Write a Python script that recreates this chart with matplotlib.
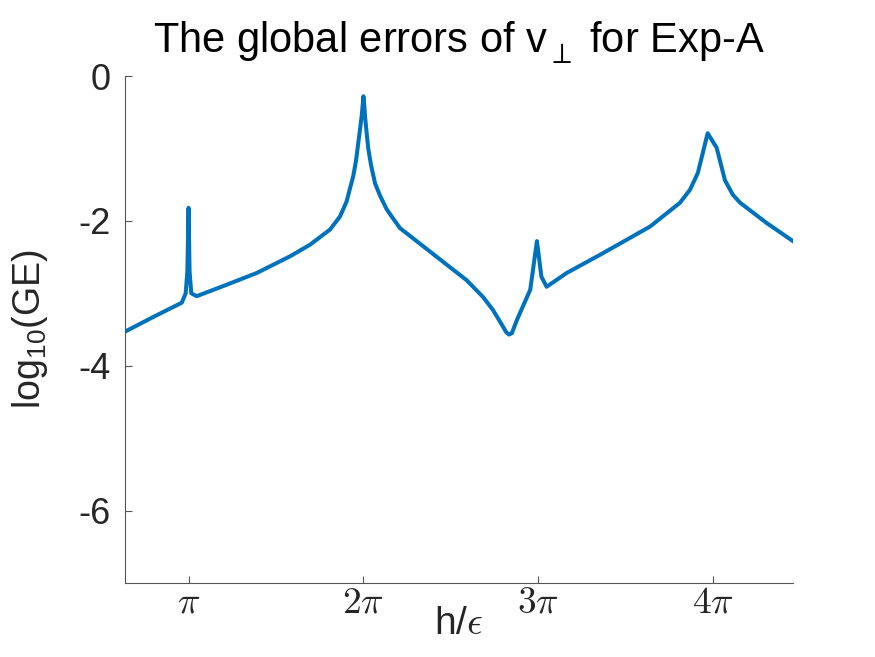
import numpy as np
import matplotlib
matplotlib.use("Agg")
import matplotlib.pyplot as plt

plt.rcParams['font.family'] = ['Liberation Sans', 'DejaVu Sans']
plt.rcParams['mathtext.fontset'] = 'custom'
plt.rcParams['mathtext.rm'] = 'Liberation Sans'
plt.rcParams['mathtext.it'] = 'Liberation Sans:italic'
plt.rcParams['axes.unicode_minus'] = False

h_over_eps = [2.0, 2.5, 3.02, 3.09, 3.12, 3.1416, 3.16, 3.19, 3.288,
              3.766, 4.366, 4.964, 5.323, 5.683, 5.862, 5.982, 6.042, 6.101,
              6.15, 6.191, 6.22, 6.252, 6.27, 6.283, 6.30, 6.311, 6.34, 6.371,
              6.42, 6.491, 6.58, 6.701, 6.80, 6.940,
              7.389, 7.838, 8.138, 8.43, 8.61, 8.79, 8.85, 8.90, 8.95, 9.04,
              9.28, 9.40, 9.48, 9.574, 9.934,
              10.53, 11.43, 11.97, 12.15, 12.29, 12.467, 12.628, 12.778,
              12.92, 13.05, 13.527, 14.0]
log_ge = [-3.53, -3.33, -3.13, -3.00, -2.70, -1.82, -2.70, -3.00, -3.04,
          -2.90, -2.72, -2.49, -2.33, -2.12, -1.94, -1.73, -1.55, -1.38,
          -1.17, -0.92, -0.75, -0.55, -0.40, -0.28, -0.42, -0.55, -0.78, -1.01,
          -1.23, -1.48, -1.65, -1.84, -1.95, -2.10,
          -2.37, -2.64, -2.82, -3.05, -3.23, -3.46, -3.54, -3.57, -3.55, -3.37,
          -2.95, -2.28, -2.77, -2.91, -2.72,
          -2.47, -2.08, -1.75, -1.57, -1.34, -0.79, -0.99, -1.44,
          -1.64, -1.75, -2.03, -2.28]

xtick_vals = [np.pi, 2*np.pi, 3*np.pi, 4*np.pi]
xtick_labels = [r'$\pi$', r'$2\pi$', r'$3\pi$', r'$4\pi$']
ytick_vals = [0, -2, -4, -6]
ytick_labels = ['0', '-2', '-4', '-6']

fig = plt.figure(figsize=(8.75, 6.57), dpi=100)
ax = fig.add_axes([125/875, 1-583/657, (793-125)/875, (583-76)/657])
ax.plot(h_over_eps, log_ge, color='#0072BD', lw=2.9, solid_joinstyle='round')
ax.set_xlim(2, 14)
ax.set_ylim(-7, 0)

tc = '#262626'
ax.spines['top'].set_visible(False)
ax.spines['right'].set_visible(False)
for s in ['left', 'bottom']:
    ax.spines[s].set_color('#555555')
    ax.spines[s].set_linewidth(0.8)
ax.tick_params(direction='in', length=5, width=0.8, color='#555555', labelcolor=tc)
ax.tick_params(axis='y', pad=10)
ax.tick_params(axis='x', pad=1)
ax.set_xticks(xtick_vals)
ax.set_xticklabels(xtick_labels, fontsize=27, math_fontfamily='cm')
ax.set_yticks(ytick_vals)
ax.set_yticklabels(ytick_labels, fontsize=26)

ax.set_xlabel(r'h/$\epsilon$', fontsize=28, color=tc, math_fontfamily='cm')
ax.xaxis.set_label_coords(0.5, -0.045)
ax.set_ylabel(r'log$_{10}$(GE)', fontsize=27, color=tc)
ax.yaxis.set_label_coords(-0.112, 0.5)
ax.set_title(r'The global errors of v$_{\perp}^{\ }$ for Exp-A', fontsize=30, color='black', pad=17)

fig.savefig('out.png', dpi=100)
